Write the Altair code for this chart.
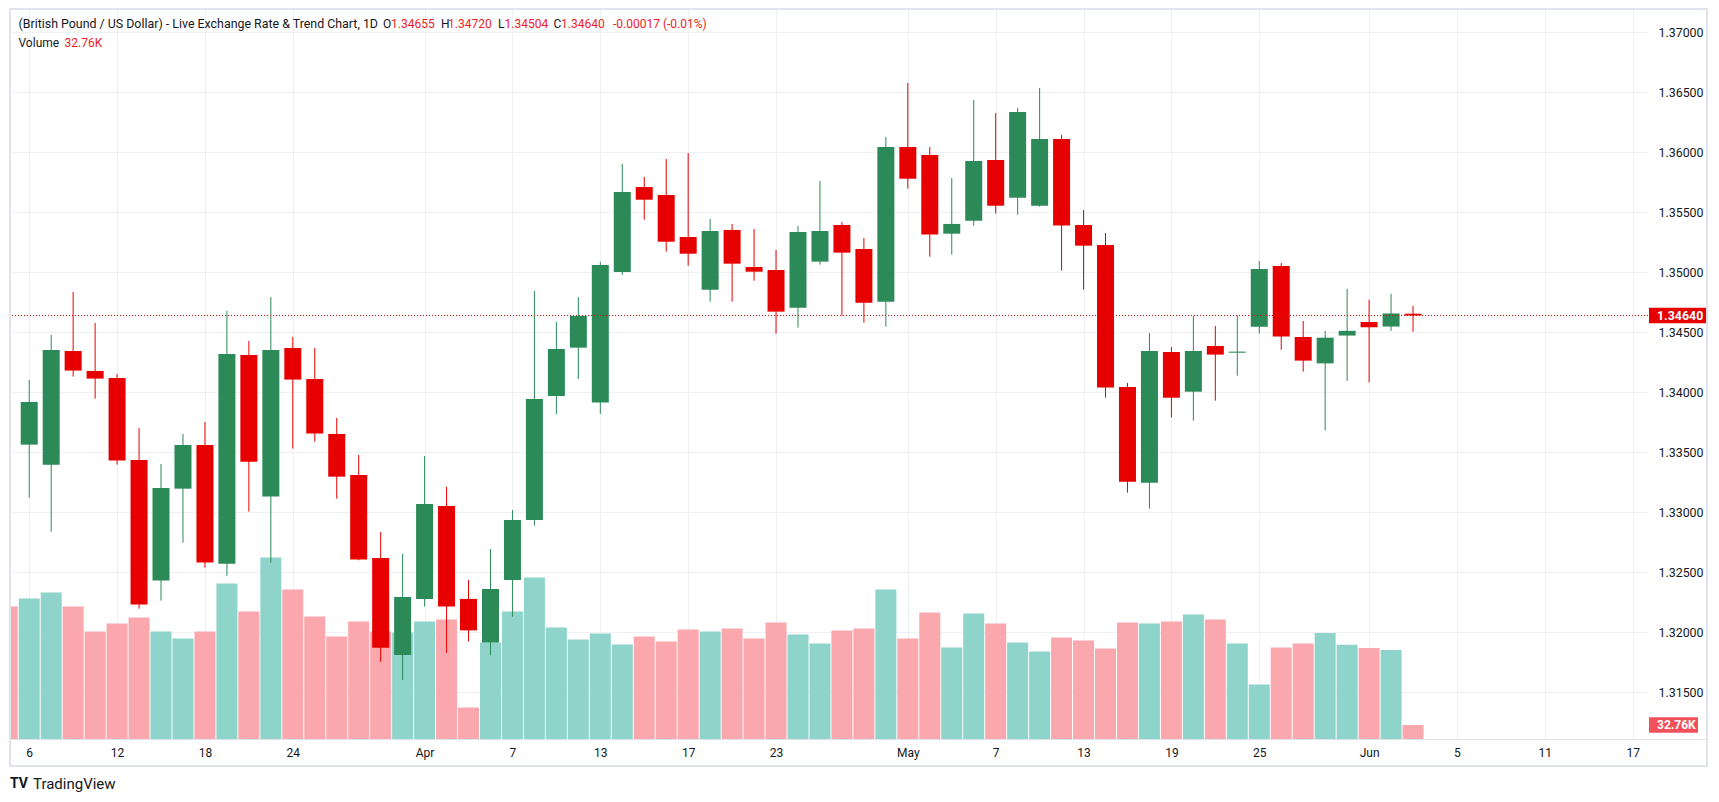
import altair as alt
import numpy as np
import pandas as pd

# ---------------- data ----------------
dates = [
    "2026-03-06", "2026-03-09", "2026-03-10", "2026-03-11", "2026-03-12", "2026-03-13",
    "2026-03-16", "2026-03-17", "2026-03-18", "2026-03-19", "2026-03-20", "2026-03-23",
    "2026-03-24", "2026-03-25", "2026-03-26", "2026-03-27", "2026-03-30", "2026-03-31",
    "2026-04-01", "2026-04-02", "2026-04-03", "2026-04-06", "2026-04-07", "2026-04-08",
    "2026-04-09", "2026-04-10", "2026-04-13", "2026-04-14", "2026-04-15", "2026-04-16",
    "2026-04-17", "2026-04-20", "2026-04-21", "2026-04-22", "2026-04-23", "2026-04-24",
    "2026-04-27", "2026-04-28", "2026-04-29", "2026-04-30", "2026-05-01", "2026-05-04",
    "2026-05-05", "2026-05-06", "2026-05-07", "2026-05-08", "2026-05-11", "2026-05-12",
    "2026-05-13", "2026-05-14", "2026-05-15", "2026-05-18", "2026-05-19", "2026-05-20",
    "2026-05-21", "2026-05-22", "2026-05-25", "2026-05-26", "2026-05-27", "2026-05-28",
    "2026-05-29", "2026-06-01", "2026-06-02", "2026-06-03",
]
opens = [
    1.33564, 1.33397, 1.34344, 1.34178, 1.34119, 1.33436, 1.32431, 1.33197, 1.33561, 1.32572,
    1.34311, 1.33131, 1.34369, 1.34111, 1.33653, 1.33311, 1.32619, 1.31811, 1.32278, 1.33053,
    1.32278, 1.31914, 1.32436, 1.32936, 1.33969, 1.34372, 1.33914, 1.35003, 1.35711, 1.35644,
    1.35294, 1.34855, 1.35353, 1.35044, 1.35019, 1.34705, 1.35089, 1.35394, 1.35194, 1.34755,
    1.36044, 1.35978, 1.35322, 1.35430, 1.35936, 1.35622, 1.35555, 1.36111, 1.35394, 1.35228,
    1.34044, 1.33247, 1.34336, 1.34005, 1.34386, 1.34333, 1.34547, 1.35053, 1.34461, 1.34241,
    1.34473, 1.34586, 1.34548, 1.34655,
]
highs = [
    1.34103, 1.34478, 1.34836, 1.34578, 1.34153, 1.33703, 1.33403, 1.33653, 1.33753, 1.34678,
    1.34428, 1.34794, 1.34461, 1.34369, 1.33786, 1.33478, 1.32836, 1.32653, 1.33469, 1.33211,
    1.32436, 1.32694, 1.33019, 1.34844, 1.34586, 1.34794, 1.35086, 1.35903, 1.35794, 1.35944,
    1.35994, 1.35444, 1.35403, 1.35361, 1.35186, 1.35386, 1.35761, 1.35419, 1.35286, 1.36128,
    1.36578, 1.36044, 1.35786, 1.36436, 1.36328, 1.36369, 1.36536, 1.36144, 1.35519, 1.35328,
    1.34078, 1.34494, 1.34378, 1.34639, 1.34553, 1.34639, 1.35094, 1.35078, 1.34594, 1.34512,
    1.34863, 1.34771, 1.34821, 1.34720,
]
lows = [
    1.33122, 1.32839, 1.34131, 1.33947, 1.33397, 1.32197, 1.32264, 1.32747, 1.32539, 1.32472,
    1.33006, 1.32581, 1.33531, 1.33589, 1.33114, 1.32600, 1.31753, 1.31602, 1.32214, 1.31828,
    1.31924, 1.31808, 1.32130, 1.32889, 1.33819, 1.34111, 1.33819, 1.34978, 1.35439, 1.35172,
    1.35055, 1.34755, 1.34755, 1.34930, 1.34489, 1.34539, 1.35064, 1.34639, 1.34580, 1.34547,
    1.35697, 1.35130, 1.35147, 1.35389, 1.35489, 1.35480, 1.35547, 1.35014, 1.34855, 1.33955,
    1.33164, 1.33030, 1.33789, 1.33764, 1.33930, 1.34139, 1.34489, 1.34355, 1.34172, 1.33682,
    1.34095, 1.34083, 1.34512, 1.34504,
]
closes = [
    1.33919, 1.34353, 1.34181, 1.34114, 1.33431, 1.32231, 1.33203, 1.33561, 1.32581, 1.34319,
    1.33422, 1.34353, 1.34106, 1.33656, 1.33297, 1.32606, 1.31872, 1.32294, 1.33069, 1.32214,
    1.32016, 1.32361, 1.32936, 1.33944, 1.34361, 1.34636, 1.35061, 1.35669, 1.35605, 1.35255,
    1.35155, 1.35344, 1.35072, 1.35005, 1.34672, 1.35336, 1.35344, 1.35164, 1.34747, 1.36044,
    1.35780, 1.35314, 1.35403, 1.35928, 1.35555, 1.36336, 1.36111, 1.35389, 1.35222, 1.34039,
    1.33255, 1.34344, 1.33955, 1.34344, 1.34314, 1.34336, 1.35028, 1.34464, 1.34264, 1.34455,
    1.34512, 1.34542, 1.34657, 1.34640,
]
volumes_k = [
    309.0, 322.1, 291.6, 237.0, 254.4, 267.5, 237.0, 221.7, 237.0, 341.8,
    280.6, 398.6, 328.7, 269.7, 226.0, 258.8, 237.0, 234.8, 258.8, 263.2,
    71.0, 212.9, 280.6, 354.9, 245.7, 219.5, 232.6, 208.6, 226.0, 215.1,
    241.3, 237.0, 243.5, 221.7, 256.6, 230.4, 210.8, 239.1, 243.5, 328.7,
    221.7, 278.5, 202.0, 276.3, 254.4, 212.9, 193.3, 223.9, 217.3, 199.8,
    256.6, 254.4, 258.8, 274.1, 263.2, 210.8, 121.2, 202.0, 210.8, 233.7,
    207.9, 200.7, 196.8, 32.76,
]
# the bar just cut off at the left edge (previous session)
prev_dates = ["2026-03-05"]
prev_volumes_k = [291.6]
prev_dirs = ["down"]

tick_dates = ["2026-03-06", "2026-03-12", "2026-03-18", "2026-03-24", "2026-04-01", "2026-04-07",
              "2026-04-13", "2026-04-17", "2026-04-23", "2026-05-01", "2026-05-07", "2026-05-13",
              "2026-05-19", "2026-05-25", "2026-06-01", "2026-06-05", "2026-06-11", "2026-06-17"]
tick_labels = ["6", "12", "18", "24", "Apr", "7", "13", "17", "23", "May", "7", "13",
               "19", "25", "Jun", "5", "11", "17"]
price_ticks = [1.315, 1.320, 1.325, 1.330, 1.335, 1.340, 1.345, 1.350, 1.355, 1.360, 1.365, 1.370]

TITLE = "(British Pound / US Dollar) - Live Exchange Rate & Trend Chart, 1D"

# ---------------- style ----------------
GREEN = "#2b8a57"
RED = "#e60000"
TEAL = "#8fd4ca"
PINK = "#faa8ae"
VOLBADGE = "#f2505b"
GRID = "#eef0f4"
BORDER = "#e0e3eb"
TEXT = "#131722"
HRED = "#ee1c25"
FONT = "Roboto"

W, H = 1637, 731
X_DOM = [-0.602, 73.47]
Y_DOM = [1.311025, 1.371942]
VOL_DOM = [0, 1596.5]

# ---------------- tables ----------------
t0 = np.datetime64(dates[0])
df = pd.DataFrame({"date": dates, "open": opens, "high": highs, "low": lows,
                   "close": closes, "vol": volumes_k})
df["i"] = np.busday_count(t0, np.array(dates, dtype="datetime64[D]"))
df["dir"] = np.where(df["close"] >= df["open"], "up", "down")
df["vdir"] = "v" + df["dir"]
mid = (df["open"] + df["close"]) / 2
half = np.maximum((df["open"] - df["close"]).abs() / 2, 0.000045)
df["btop"] = mid + half
df["bbot"] = mid - half

dprev = pd.DataFrame({"date": prev_dates, "vol": prev_volumes_k})
dprev["i"] = np.busday_count(t0, np.array(prev_dates, dtype="datetime64[D]"))
dprev["vdir"] = ["v" + d for d in prev_dirs]
dvol = pd.concat([dprev, df[["date", "vol", "i", "vdir"]]], ignore_index=True)

tick_idx = [int(v) for v in np.busday_count(t0, np.array(tick_dates, dtype="datetime64[D]"))]
expr = ""
for v, l in zip(tick_idx, tick_labels):
    expr += f"datum.value == {v} ? '{l}' : "
expr += "''"

last = df.iloc[-1]
prev_close = df.iloc[-2]["close"]
chg = last["close"] - prev_close
pct = chg / prev_close * 100

xenc = alt.X("i:Q", scale=alt.Scale(domain=X_DOM, nice=False, zero=False),
             axis=alt.Axis(values=tick_idx, labelExpr=expr, grid=True, gridColor=GRID,
                           ticks=False, domain=False, labelColor=TEXT, labelFont=FONT,
                           labelFontSize=12, labelPadding=7, title=None,
                           labelFlush=False, labelOverlap=False))
color_scale = alt.Scale(domain=["up", "down", "vup", "vdown"], range=[GREEN, RED, TEAL, PINK])
yaxis = alt.Axis(orient="right", values=price_ticks, format=".5f", grid=True, gridColor=GRID,
                 ticks=False, domain=False, labelPadding=10, labelAlign="left",
                 labelColor=TEXT, labelFont=FONT, labelFontSize=12.4, title=None,
                 labelOverlap=False, labelFlush=False)
yscale = alt.Scale(domain=Y_DOM, nice=False, zero=False)

# ---------------- volume layer ----------------
vbars = alt.Chart(dvol).mark_bar(size=21, clip=True).encode(
    x=xenc,
    y=alt.Y("vol:Q", scale=alt.Scale(domain=VOL_DOM, nice=False, zero=True), axis=None),
    color=alt.Color("vdir:N", scale=color_scale, legend=None),
)
dvb = pd.DataFrame({"v": [last["vol"]], "top": [last["vol"] + 17.1], "bot": [last["vol"] - 17.1],
                    "label": [f"{last['vol']:.2f}K"]})
vbadge = alt.Chart(dvb).mark_rect(color=VOLBADGE).encode(
    x=alt.value(W + 1), x2=alt.value(W + 50),
    y=alt.Y("top:Q", scale=alt.Scale(domain=VOL_DOM, nice=False, zero=True), axis=None),
    y2="bot:Q",
)
vbadge_t = alt.Chart(dvb).mark_text(color="white", align="left", baseline="middle",
                                    font=FONT, fontSize=12, fontWeight="bold").encode(
    x=alt.value(W + 9),
    y=alt.Y("v:Q", scale=alt.Scale(domain=VOL_DOM, nice=False, zero=True), axis=None),
    text="label:N",
)
vol_layer = alt.layer(vbars, vbadge, vbadge_t)

# ---------------- price layer ----------------
wicks = alt.Chart(df).mark_rule(strokeWidth=1, clip=True).encode(
    x=xenc,
    y=alt.Y("low:Q", scale=yscale, axis=yaxis),
    y2="high:Q",
    color=alt.Color("dir:N", scale=color_scale, legend=None),
)
bodies = alt.Chart(df).mark_bar(size=17, clip=True).encode(
    x=xenc,
    y=alt.Y("bbot:Q", scale=yscale, axis=yaxis),
    y2="btop:Q",
    color=alt.Color("dir:N", scale=color_scale, legend=None),
)
dline = pd.DataFrame({"p": [last["close"]], "top": [last["close"] + 0.00065],
                      "bot": [last["close"] - 0.00065], "label": [f"{last['close']:.5f}"]})
pline = alt.Chart(dline).mark_rule(color=RED, strokeWidth=1, strokeDash=[1, 2]).encode(
    y=alt.Y("p:Q", scale=yscale, axis=yaxis),
)
pbadge = alt.Chart(dline).mark_rect(color=RED).encode(
    x=alt.value(W + 1), x2=alt.value(W + 58),
    y=alt.Y("top:Q", scale=yscale, axis=yaxis), y2="bot:Q",
)
pbadge_t = alt.Chart(dline).mark_text(color="white", align="left", baseline="middle",
                                      font=FONT, fontSize=12.4, fontWeight="bold").encode(
    x=alt.value(W + 9),
    y=alt.Y("p:Q", scale=yscale, axis=yaxis),
    text="label:N",
)
price_layer = alt.layer(wicks, bodies, pline, pbadge, pbadge_t)

# ---------------- decorations (header, frame, logo) ----------------
one = pd.DataFrame({"a": [0]})


def txt(s, x, y, color=TEXT, size=12, weight="normal"):
    return alt.Chart(one).mark_text(text=s, align="left", baseline="middle", font=FONT,
                                    fontSize=size, fontWeight=weight, color=color).encode(
        x=alt.value(x), y=alt.value(y))


hdr = [
    txt(TITLE, 7.5, 15, TEXT, 12.4),
    txt("O", 372, 15), txt(f"{last['open']:.5f}", 380, 15, HRED),
    txt("H", 430, 15), txt(f"{last['high']:.5f}", 437, 15, HRED),
    txt("L", 487, 15), txt(f"{last['low']:.5f}", 493.5, 15, HRED),
    txt("C", 542.5, 15), txt(f"{last['close']:.5f}", 550, 15, HRED),
    txt(f"{chg:+.5f} ({pct:+.2f}%)".replace("+", ""), 602, 15, HRED),
    txt("Volume", 7.5, 33.5), txt(f"{last['vol']:.2f}K", 53.5, 33.5, HRED),
    txt("TradingView", 22, 775, TEXT, 15),
    txt("TV", -1, 775, TEXT, 14, "bold"),
]

frame = alt.Chart(one).mark_rect(fillOpacity=0, stroke=BORDER, strokeWidth=2).encode(
    x=alt.value(-1), x2=alt.value(1696), y=alt.value(0), y2=alt.value(757))
xline = alt.Chart(one).mark_rule(color=BORDER, strokeWidth=1).encode(
    x=alt.value(-1), x2=alt.value(1696), y=alt.value(H - 0.5))

chart = alt.layer(vol_layer, price_layer, frame, xline, *hdr).resolve_scale(
    y="independent"
).properties(
    width=W, height=H,
    padding={"left": 11, "top": 9, "right": 1719 - 11 - W, "bottom": 802 - 9 - H},
    autosize=alt.AutoSizeParams(type="none"),
    background="white",
).configure_view(stroke=None)

chart.save("out.html", embed_options={"renderer": "svg", "actions": False})
